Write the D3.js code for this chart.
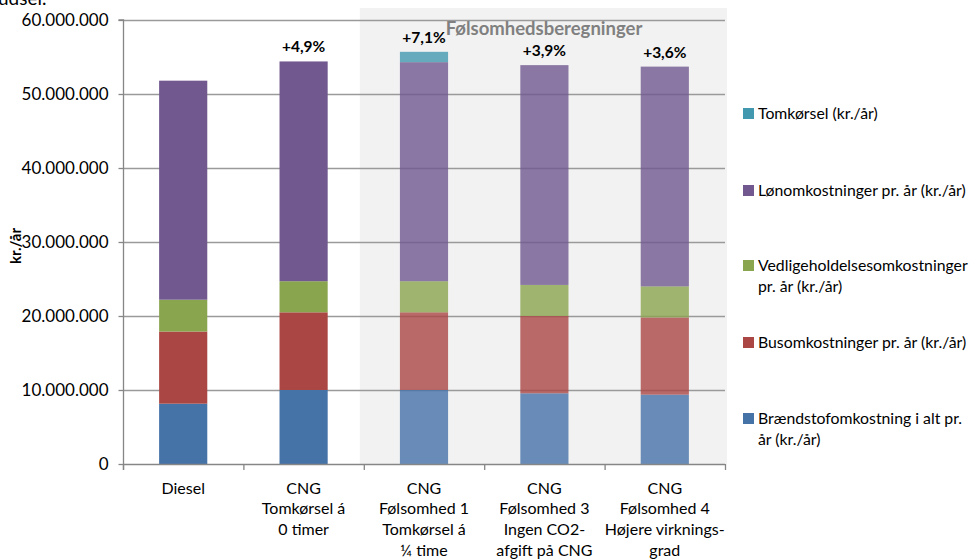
<!DOCTYPE html>
<html>
<head>
<meta charset="utf-8">
<script src="https://cdn.jsdelivr.net/npm/d3@7"></script>
<style>
  html, body { margin: 0; padding: 0; background: #fff; }
  svg { display: block; font-family: Lato, "Open Sans", sans-serif; }
</style>
</head>
<body>
<svg id="chart" width="973" height="559"></svg>
<script>
// ---- data ----
const categories = [
  ["Diesel"],
  ["CNG", "Tomkørsel á", "0 timer"],
  ["CNG", "Følsomhed 1", "Tomkørsel á", "¼ time"],
  ["CNG", "Følsomhed 3", "Ingen CO2-", "afgift på CNG"],
  ["CNG", "Følsomhed 4", "Højere virknings-", "grad"]
];
const seriesNames = [
  "Brændstofomkostning i alt pr. år (kr./år)",
  "Busomkostninger pr. år (kr./år)",
  "Vedligeholdelsesomkostninger pr. år (kr./år)",
  "Lønomkostninger pr. år (kr./år)",
  "Tomkørsel (kr./år)"
];
const braendstof = [8150000, 10000000, 10000000, 9550000, 9370000];
const busomk     = [9750000, 10500000, 10500000, 10450000, 10430000];
const vedlig     = [4300000, 4200000, 4200000, 4200000, 4200000];
const lonomk     = [29600000, 29700000, 29600000, 29700000, 29700000];
const tomkorsel  = [0, 0, 1400000, 0, 0];
const pctLabels  = ["", "+4,9%", "+7,1%", "+3,9%", "+3,6%"];
const yTicks     = [0, 10000000, 20000000, 30000000, 40000000, 50000000, 60000000];
const yTickLabels = ["0", "10.000.000", "20.000.000", "30.000.000", "40.000.000", "50.000.000", "60.000.000"];
const sensStart = 2; // first sensitivity category
const panelTitle = "Følsomhedsberegninger";
const yTitle = "kr./år";

(function () {
// ---- styles ----
const colors = ["#4572A7", "#AA4643", "#89A54E", "#71588F", "#4198AF"];
const svg = d3.select("#chart");
const pLeft = 123, pRight = 725, pTop = 20, pBottom = 464;

const x = d3.scaleBand().domain(d3.range(categories.length)).range([pLeft, pRight]).padding(0);
const y = d3.scaleLinear().domain([0, 60000000]).range([pBottom, pTop]);

const allSeries = [braendstof, busomk, vedlig, lonomk, tomkorsel];
const table = categories.map((c, i) => {
  const o = { idx: i };
  allSeries.forEach((s, k) => o["s" + k] = s[i]);
  return o;
});
const stack = d3.stack().keys(allSeries.map((s, k) => "s" + k))(table);

// cropped text at top-left (partially visible in the source image)
svg.append("text").attr("x", -2).attr("y", 5).attr("font-size", 19).attr("fill", "#000").text("udsel.");

// sensitivity panel
const px0 = x(sensStart) - 4;
svg.append("rect").attr("x", px0).attr("y", 8)
  .attr("width", pRight + 2 - px0).attr("height", pBottom - 8)
  .attr("fill", "#F2F2F2");

// gridlines
svg.append("g").selectAll("line").data(yTicks.slice(1)).join("line")
  .attr("x1", pLeft).attr("x2", pRight)
  .attr("y1", d => Math.round(y(d)) + 0.5).attr("y2", d => Math.round(y(d)) + 0.5)
  .attr("stroke", "#9A9A9A").attr("stroke-width", 1.3);

// bars
const bw = x.bandwidth() * 0.4;
stack.forEach((layer, k) => {
  svg.append("g").selectAll("rect").data(layer).join("rect")
    .attr("x", (d, i) => x(i) + (x.bandwidth() - bw) / 2)
    .attr("width", bw)
    .attr("y", d => y(d[1]))
    .attr("height", d => Math.max(0, y(d[0]) - y(d[1])))
    .attr("fill", colors[k])
    .attr("fill-opacity", (d, i) => i >= sensStart ? 0.8 : 1);
});

// y axis
const yAxis = d3.axisLeft(y).tickValues(yTicks).tickFormat((d, i) => yTickLabels[i]).tickSize(5).tickPadding(10);
const gy = svg.append("g").attr("transform", `translate(${pLeft + 0.5},0)`).call(yAxis);
gy.select(".domain").attr("stroke", "#868686").attr("stroke-width", 1.3).attr("d", `M-5,${pTop}H0V${pBottom + 6}`);
gy.selectAll(".tick line").attr("stroke", "#868686").attr("stroke-width", 1.3);
gy.selectAll(".tick text").attr("font-size", 17).attr("fill", "#000").attr("font-family", "Lato, sans-serif");

// x axis
const gx = svg.append("g");
gx.append("line").attr("x1", pLeft).attr("x2", pRight).attr("y1", pBottom + 0.5).attr("y2", pBottom + 0.5)
  .attr("stroke", "#868686").attr("stroke-width", 1.3);
gx.selectAll("line.tk").data(d3.range(categories.length + 1)).join("line").attr("class", "tk")
  .attr("x1", i => (i < categories.length ? x(i) : pRight) + 0.5)
  .attr("x2", i => (i < categories.length ? x(i) : pRight) + 0.5)
  .attr("y1", pBottom).attr("y2", pBottom + 6)
  .attr("stroke", "#868686").attr("stroke-width", 1.3);
categories.forEach((lines, i) => {
  const t = gx.append("text").attr("text-anchor", "middle").attr("font-size", 16).attr("fill", "#000");
  lines.forEach((l, j) => t.append("tspan").attr("x", x(i) + x.bandwidth() / 2).attr("y", 493.5 + j * 20.8).text(l));
});

// percentage labels
svg.append("g").selectAll("text").data(table).join("text")
  .attr("x", d => x(d.idx) + x.bandwidth() / 2)
  .attr("y", (d, i) => y(stack[stack.length - 1][i][1]) - 9)
  .attr("text-anchor", "middle").attr("font-size", 15.5).attr("font-weight", "bold").attr("fill", "#000")
  .text((d, i) => pctLabels[i]);

// panel title
svg.append("text").attr("x", 544).attr("y", 35).attr("text-anchor", "middle")
  .attr("font-size", 18.5).attr("font-weight", "bold").attr("fill", "#808080").text(panelTitle);

// y title
svg.append("text").attr("transform", "translate(21,246) rotate(-90)").attr("text-anchor", "middle")
  .attr("font-size", 15).attr("font-weight", "bold").attr("fill", "#000").text(yTitle);

// legend
const legendItems = [
  { k: 4, lines: ["Tomkørsel (kr./år)"], y: 113 },
  { k: 3, lines: ["Lønomkostninger pr. år (kr./år)"], y: 190 },
  { k: 2, lines: ["Vedligeholdelsesomkostninger", "pr. år (kr./år)"], y: 265 },
  { k: 1, lines: ["Busomkostninger pr. år (kr./år)"], y: 342 },
  { k: 0, lines: ["Brændstofomkostning i alt pr.", "år (kr./år)"], y: 418 }
];
const lg = svg.append("g");
legendItems.forEach(it => {
  lg.append("rect").attr("x", 743).attr("y", it.y - 5).attr("width", 11).attr("height", 11).attr("fill", colors[it.k]);
  const t = lg.append("text").attr("font-size", 15.8).attr("fill", "#000");
  it.lines.forEach((l, j) => t.append("tspan").attr("x", 758).attr("y", it.y + 5.5 + j * 21.5).text(l));
});
})();
</script>
</body>
</html>
